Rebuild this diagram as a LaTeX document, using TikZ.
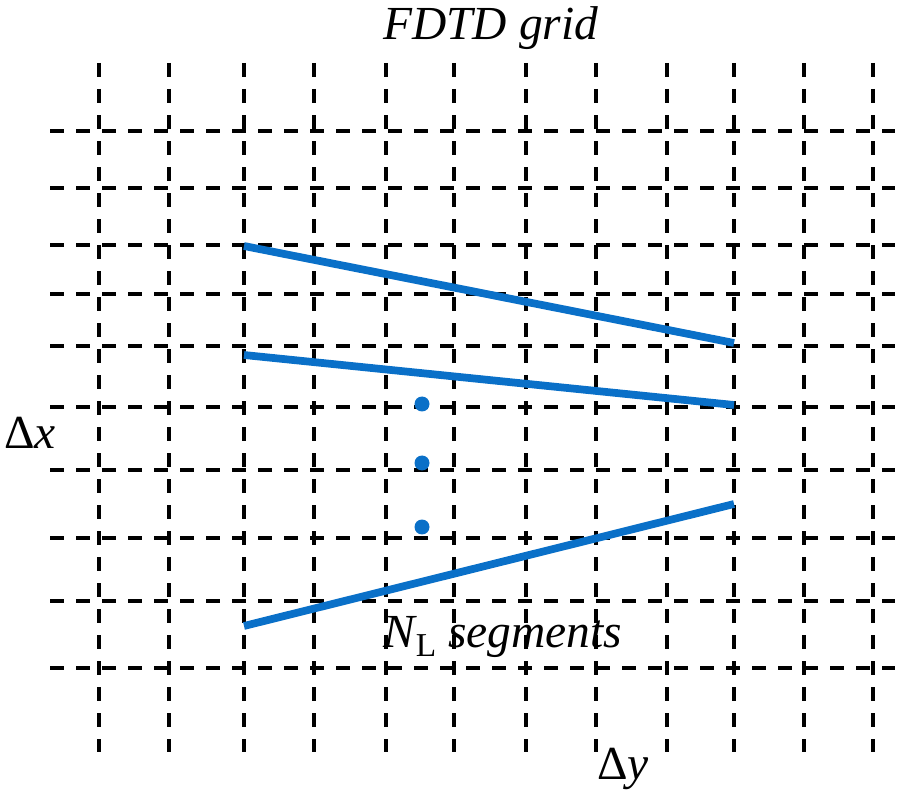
\documentclass[tikz,border=0pt]{standalone}
\usepackage{fontspec}
\setmainfont{Liberation Serif}
\begin{document}
\begin{tikzpicture}[x=0.02cm,y=-0.02cm,
  gridline/.style={black,line width=1.9pt,dash pattern=on 8pt off 6.8pt},
  seg/.style={line width=4.4pt,color=segblue},
  dotmark/.style={circle,fill=segblue,inner sep=0pt,minimum size=0.3cm},
  lbl/.style={inner sep=0pt,font=\fontsize{27}{30}\selectfont}]
\definecolor{segblue}{HTML}{0A70C8}
\useasboundingbox (0,0) rectangle (900,800);
% vertical grid lines
\foreach \x in {99,169,244,314,386,454,526,596,667,734,804,873}
  \draw[gridline] (\x,63) -- (\x,752);
% horizontal grid lines
\foreach \y in {131,188,245,294,346,407,470,538,601,668}
  \draw[gridline] (50,\y) -- (895,\y);
% segment end points
\coordinate (a1) at (244,246);
\coordinate (b1) at (734,343);
\coordinate (a2) at (244,355);
\coordinate (b2) at (734,405);
\coordinate (a3) at (244,626);
\coordinate (b3) at (734,504);
\draw[seg] (a1) -- (b1);
\draw[seg] (a2) -- (b2);
\draw[seg] (a3) -- (b3);
\node[dotmark] (d1) at (422,404) {};
\node[dotmark] (d2) at (422,463) {};
\node[dotmark] (d3) at (422,527) {};
% labels
\node[lbl,anchor=base west] (title) at (383,40) {\itshape FDTD grid};
\node[lbl,anchor=base west] (dx) at (4,449) {Δ\itshape x};
\node[lbl,anchor=base west] (nl) at (383,647) {\itshape N\kern0.5pt\raisebox{-0.2em}{\upshape\fontsize{19}{20}\selectfont L} segments};
\node[lbl,anchor=base west] (dy) at (597,779) {Δ\itshape y};
\end{tikzpicture}
\end{document}
